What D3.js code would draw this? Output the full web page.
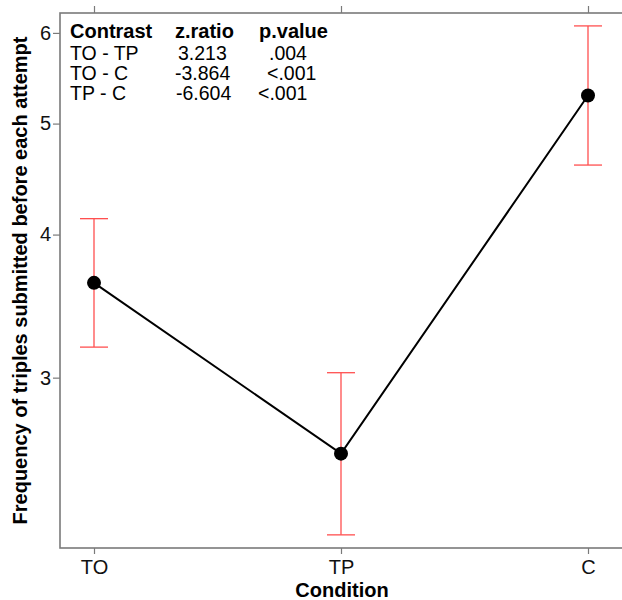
<!DOCTYPE html>
<html>
<head>
<meta charset="utf-8">
<script src="https://cdn.jsdelivr.net/npm/d3@7"></script>
<style>
  body { margin: 0; background: #fff; }
  text { font-family: "Liberation Sans", Arial, sans-serif; }
</style>
</head>
<body>
<div id="chart"></div>
<script>
// data
const conditions = ["TO", "TP", "C"];
const means = [3.63, 2.575, 5.29];
const upper = [4.13, 3.03, 6.085];
const lower = [3.19, 2.187, 4.60];
const yTicks = [3, 4, 5, 6];

const tableHeader = ["Contrast", "z.ratio", "p.value"];
const contrasts = ["TO - TP", "TO - C", "TP - C"];
const zRatios = ["3.213", "-3.864", "-6.604"];
const pValues = [".004", "<.001", "<.001"];

const width = 622, height = 600;
const margin = { top: 13, right: -1, bottom: 52, left: 60 };
const plotBottom = height - margin.bottom;

const svg = d3.select("#chart").append("svg").attr("width", width).attr("height", height);

const x = d3.scalePoint().domain(conditions).range([94, 588]);
const y = d3.scaleLog().domain([2.13, 6.245]).range([plotBottom, margin.top]);

const axisColor = "#7a7a7a";

// frame
svg.append("rect")
    .attr("x", margin.left).attr("y", margin.top)
    .attr("width", width - margin.right - margin.left).attr("height", plotBottom - margin.top)
    .attr("fill", "none").attr("stroke", axisColor).attr("stroke-width", 1.6);

// axes
const xAxis = svg.append("g").attr("transform", `translate(0,${plotBottom})`)
    .call(d3.axisBottom(x).tickSize(6).tickPadding(6));
const topAxis = svg.append("g").attr("transform", `translate(0,${margin.top})`)
    .call(d3.axisTop(x).tickSize(7).tickFormat(""));
const yAxis = svg.append("g").attr("transform", `translate(${margin.left},0)`)
    .call(d3.axisLeft(y).tickValues(yTicks).tickFormat(d3.format("d")).tickSize(7).tickPadding(2));

[xAxis, topAxis, yAxis].forEach(g => {
    g.select(".domain").remove();
    g.selectAll(".tick line").attr("stroke", axisColor).attr("stroke-width", 1.2);
    g.selectAll(".tick text").attr("fill", "#111").style("font-size", "20px");
});

// axis titles
svg.append("text")
    .attr("x", 342).attr("y", 597)
    .attr("text-anchor", "middle")
    .style("font-size", "20px").style("font-weight", "bold")
    .text("Condition");

svg.append("text")
    .attr("transform", `translate(27,${(margin.top + plotBottom) / 2}) rotate(-90)`)
    .attr("text-anchor", "middle")
    .style("font-size", "20px").style("font-weight", "bold")
    .text("Frequency of triples submitted before each attempt");

// error bars
const cap = 14;
const ebColor = "#ff4f4f";
const eb = svg.append("g").attr("stroke", ebColor).attr("stroke-width", 1.3);
conditions.forEach((c, i) => {
    eb.append("line").attr("x1", x(c)).attr("x2", x(c)).attr("y1", y(upper[i])).attr("y2", y(lower[i]));
    eb.append("line").attr("x1", x(c) - cap).attr("x2", x(c) + cap).attr("y1", y(upper[i])).attr("y2", y(upper[i]));
    eb.append("line").attr("x1", x(c) - cap).attr("x2", x(c) + cap).attr("y1", y(lower[i])).attr("y2", y(lower[i]));
});

// line and points
const line = d3.line().x((d, i) => x(conditions[i])).y(d => y(d));
svg.append("path").datum(means)
    .attr("d", line).attr("fill", "none").attr("stroke", "#000").attr("stroke-width", 2);

svg.selectAll("circle.pt").data(means).join("circle")
    .attr("class", "pt")
    .attr("cx", (d, i) => x(conditions[i]))
    .attr("cy", d => y(d))
    .attr("r", 7)
    .attr("fill", "#000");

// contrast table
const colX = [70, 175, 259];
const cellNudge = [[0, 3, 10], [0, 0, 8], [0, 1, -1]];   // small offsets per row, per column
const rowY = [60, 80, 100];

const table = svg.append("g").attr("fill", "#000");
tableHeader.forEach((h, j) => {
    table.append("text").attr("x", colX[j]).attr("y", 38)
        .style("font-size", "20px").style("font-weight", "bold").text(h);
});
contrasts.forEach((c, i) => {
    [c, zRatios[i], pValues[i]].forEach((v, j) => {
        table.append("text").attr("x", colX[j] + cellNudge[i][j]).attr("y", rowY[i])
            .style("font-size", "19.5px").text(v);
    });
});
</script>
</body>
</html>
